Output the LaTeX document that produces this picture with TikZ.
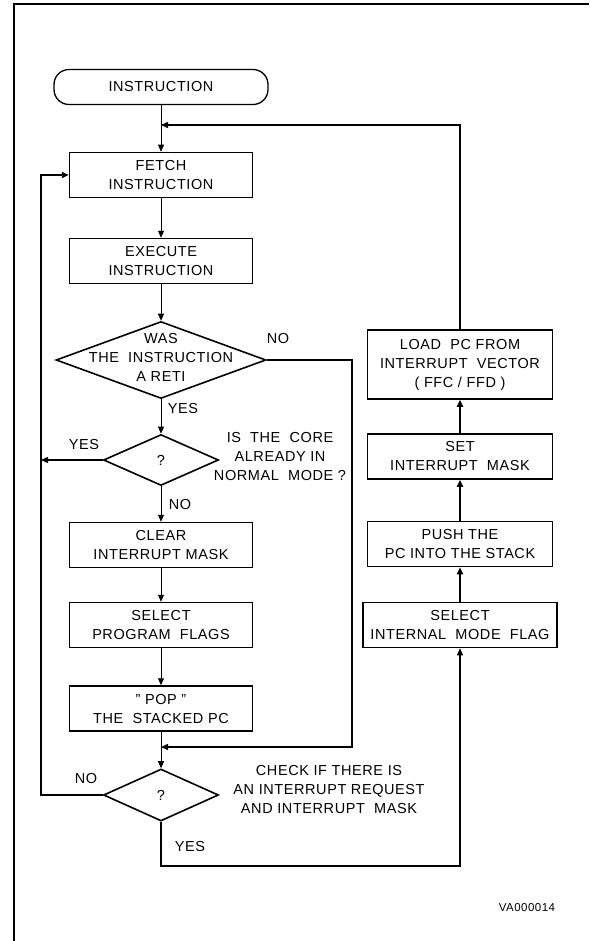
\documentclass[tikz,border=0pt]{standalone}
\usepackage{fontspec}
\setmainfont{Liberation Sans}[LetterSpace=4]
\usetikzlibrary{shapes.geometric,arrows.meta}

\definecolor{flowLine}{RGB}{0,0,0}

\tikzset{
  flowText/.style={font=\fontsize{14.5}{19}\selectfont, align=center},
  flowBox/.style={flowText, draw=flowLine, line width=1.5pt, minimum width=183pt, minimum height=45pt, inner sep=0pt},
  sideBox/.style={flowBox, minimum width=185pt},
  flowDec/.style={flowText, draw=flowLine, line width=1.6pt, diamond, inner sep=0pt, minimum width=115pt, minimum height=51pt},
  flowTerm/.style={flowText, draw=flowLine, line width=1.3pt, rounded corners=15pt, minimum width=214pt, minimum height=35pt},
  thinArrow/.style={draw=flowLine, line width=0.9pt, -{Triangle[length=7pt,width=6pt]}},
  thickArrow/.style={draw=flowLine, line width=1.8pt, -{Triangle[length=7pt,width=6pt]}},
}

\begin{document}
\begin{tikzpicture}[x=1pt, y=-1pt]
  \useasboundingbox (0,0) rectangle (589,941);
  % frame
  \draw[line width=2pt, draw=flowLine] (14,941) -- (14,4) -- (589,4);

  % main column
  \node[flowTerm] (termNode) at (161,87) {INSTRUCTION};
  \node[flowBox] (fetchBox) at (161,175) {FETCH\\INSTRUCTION};
  \node[flowBox] (execBox) at (161,261) {EXECUTE\\INSTRUCTION};
  \node[flowDec, minimum width=210pt, minimum height=77pt] (retiDec) at (161,360) {};
  \node[flowText] (retiText) at (161,357) {WAS\\THE \ INSTRUCTION\\A RETI};
  \node[flowDec] (coreDec) at (161,460) {?};
  \node[flowBox] (clearBox) at (161,545) {CLEAR\\INTERRUPT MASK};
  \node[flowBox] (progBox) at (161,625) {SELECT\\PROGRAM \ FLAGS};
  \node[flowBox] (popBox) at (161,708.5) {" POP "\\THE \ STACKED PC};
  \node[flowDec, minimum height=52pt] (checkDec) at (161,795) {?};

  % interrupt column
  \node[sideBox, minimum height=69pt] (loadBox) at (460,364.5) {LOAD \ PC FROM\\INTERRUPT \ VECTOR\\( FFC / FFD )};
  \node[sideBox] (maskBox) at (460,456.5) {SET\\INTERRUPT \ MASK};
  \node[sideBox] (pushBox) at (460,544) {PUSH THE\\PC INTO THE STACK};
  \node[sideBox, minimum width=194pt] (modeBox) at (460,625) {SELECT\\INTERNAL \ MODE \ FLAG};

  % joins and rails
  \coordinate (topJoin) at (161,125);
  \coordinate (loopJoin) at (161,747);
  \coordinate (leftRail) at (41,0);
  \coordinate (noRail) at (352,0);
  \coordinate (yesRail) at (0,866);

  % labels
  \node[flowText] (retiNo) at (278,339) {NO};
  \node[flowText] (retiYes) at (183,409) {YES};
  \node[flowText] (coreYes) at (84,445) {YES};
  \node[flowText] (coreNo) at (180,505) {NO};
  \node[flowText] (coreNote) at (280,457) {IS \ THE \ CORE\\ALREADY IN\\NORMAL \ MODE ?};
  \node[flowText] (checkNo) at (86,778) {NO};
  \node[flowText] (checkYes) at (190,846) {YES};
  \node[flowText] (checkNote) at (329,789) {CHECK IF THERE IS\\AN INTERRUPT REQUEST\\AND INTERRUPT \ MASK};
  \node[font=\fontsize{11.5}{14}\selectfont] (figId) at (527,908) {VA000014};

  % main flow
  \draw[thinArrow] (termNode) -- (fetchBox);
  \draw[thinArrow] (fetchBox) -- (execBox);
  \draw[thinArrow] (execBox) -- (retiDec);
  \draw[thinArrow] (retiDec) -- (coreDec);
  \draw[thinArrow] (coreDec) -- (clearBox);
  \draw[thinArrow] (clearBox) -- (progBox);
  \draw[thinArrow] (progBox) -- (popBox);
  \draw[thinArrow] (popBox) -- (checkDec);

  % branches
  \draw[thickArrow, line width=1.4pt] (retiDec.east) -- (retiDec.east -| noRail) |- (loopJoin);
  \draw[thickArrow, line width=1.4pt] (coreDec.west) -- (coreDec.west -| leftRail);
  \draw[thickArrow] (checkDec.west) -- (checkDec.west -| leftRail) |- (fetchBox.west);
  \draw[thinArrow, line width=1.2pt] (checkDec.south) -- (checkDec.south |- yesRail) -| (modeBox.south);

  % interrupt flow
  \draw[thickArrow] (modeBox) -- (pushBox);
  \draw[thickArrow] (pushBox) -- (maskBox);
  \draw[thickArrow] (maskBox) -- (loadBox);
  \draw[thickArrow, line width=1.4pt] (loadBox.north) |- (topJoin);
\end{tikzpicture}
\end{document}
